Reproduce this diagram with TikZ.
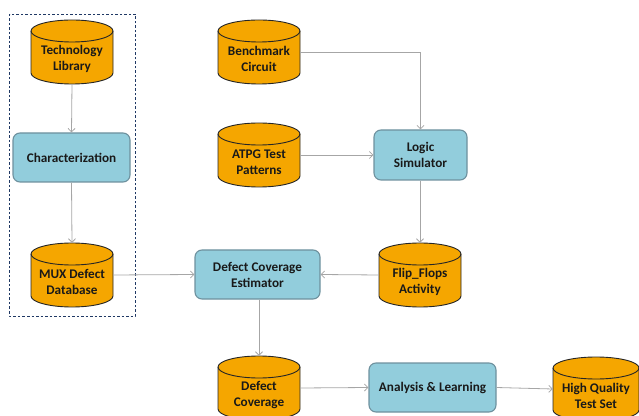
\documentclass[tikz,border=0pt]{standalone}
\usepackage{fontspec}
\setmainfont{Carlito}
\usetikzlibrary{arrows.meta}
\definecolor{cylorange}{RGB}{245,166,0}
\definecolor{boxblue}{RGB}{146,205,220}
\definecolor{boxedge}{RGB}{110,145,158}
\definecolor{arrowgray}{RGB}{166,166,166}
\definecolor{txt}{RGB}{25,25,25}
\definecolor{dashblue}{RGB}{31,56,100}
\tikzset{
  lbl/.style={font=\fontsize{13.2}{16}\selectfont\bfseries, text=txt, align=center},
  procbox/.style={lbl, draw=boxedge, fill=boxblue, line width=1.1pt, rounded corners=7pt, inner sep=0pt},
  cylbody/.style={draw=black!85, fill=cylorange, line width=0.9pt},
  cylanchor/.style={inner sep=0pt, minimum height=64pt},
  flow/.style={draw=arrowgray, line width=0.8pt, -{Straight Barb[length=3.5pt,width=7pt]}},
  grp/.style={draw=dashblue, dashed, line width=0.7pt, dash pattern=on 2.5pt off 2pt}
}
% #1 name, #2 x, #3 y, #4 half width, #5 text
\newcommand{\mycyl}[5]{%
  \path[cylbody] (#2-#4,#3+21) -- (#2-#4,#3-21)
     arc[start angle=180,end angle=360,x radius=#4,y radius=11]
     -- (#2+#4,#3+21)
     arc[start angle=0,end angle=180,x radius=#4,y radius=11] -- cycle;
  \draw[black!85, line width=0.9pt] (#2-#4,#3+21) arc[start angle=180,end angle=360,x radius=#4,y radius=11];
  \node[cylanchor, minimum width=2*#4] (#1) at (#2,#3) {};
  \node[lbl] (#1t) at (#2,#3-7) {#5};
}
\begin{document}
\begin{tikzpicture}[x=1pt,y=1pt]
\useasboundingbox (0,0) rectangle (639,415);
\draw[grp] (9.5,401) rectangle (135,99);
\mycyl{tech}{72}{363}{41}{Technology\\Library}
\mycyl{mux}{72}{140}{41}{MUX Defect\\Database}
\mycyl{bench}{259}{363}{41}{Benchmark\\Circuit}
\mycyl{atpg}{259}{260}{41}{ATPG Test\\Patterns}
\mycyl{flip}{420}{140}{41}{Flip\_Flops\\Activity}
\mycyl{defcov}{259}{27}{41}{Defect\\Coverage}
\mycyl{hq}{596}{26}{43}{High Quality\\Test Set}
\node[procbox, minimum width=117pt, minimum height=49pt] (char) at (71.5,257.5) {Characterization};
\node[procbox, minimum width=93pt, minimum height=50pt] (logic) at (420.5,260) {Logic\\Simulator};
\node[procbox, minimum width=125pt, minimum height=49pt] (est) at (257.5,140.5) {Defect Coverage\\Estimator};
\node[procbox, minimum width=127pt, minimum height=49pt] (ana) at (432.5,27.5) {Analysis \& Learning};
\draw[flow] (tech.south) -- (char.north);
\draw[flow] (char.south) -- (mux.north);
\draw[flow] (bench.east) -| (logic.north);
\draw[flow] (atpg.east) -- (logic.west);
\draw[flow] (logic.south -| flip.north) -- (flip.north);
\draw[flow] (flip.west) -- (est.east);
\draw[flow] (mux.east) -- (est.west);
\draw[flow] (defcov.north |- est.south) -- (defcov.north);
\draw[flow] (defcov.east) -- (ana.west);
\draw[flow] (ana.east) -- (hq.west);
\end{tikzpicture}
\end{document}
